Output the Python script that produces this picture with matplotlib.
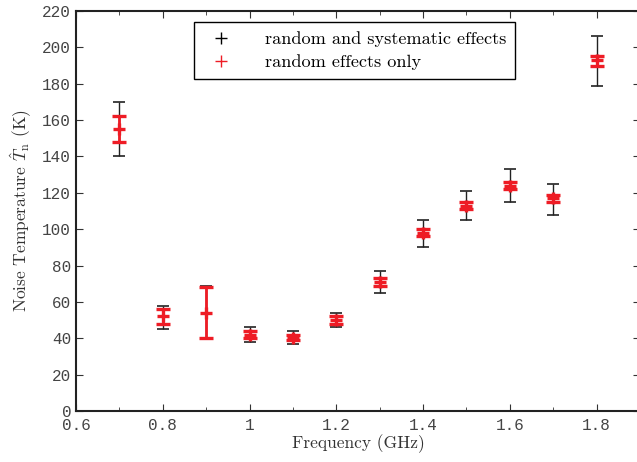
import matplotlib
matplotlib.use("Agg")
import matplotlib.pyplot as plt
from matplotlib.ticker import MultipleLocator
from matplotlib.lines import Line2D

freq = [0.7, 0.8, 0.9, 1.0, 1.1, 1.2, 1.3, 1.4, 1.5, 1.6, 1.7, 1.8]
temp = [155, 52, 54, 42, 40, 50, 71, 98, 113, 124, 117, 193]
sys_hi = [170, 58, 69, 46, 44, 54, 77, 105, 121, 133, 125, 206]
sys_lo = [140, 45, 40, 38, 37, 46, 65, 90, 105, 115, 108, 179]
rnd_hi = [162, 56, 68, 44, 42, 52, 73, 100, 115, 126, 119, 195]
rnd_lo = [148, 48, 40, 40, 39, 48, 69, 96, 111, 122, 115, 190]

xticks = [0.6, 0.8, 1.0, 1.2, 1.4, 1.6, 1.8]
xticklabels = ["0.6", "0.8", "1", "1.2", "1.4", "1.6", "1.8"]

plt.rcParams['mathtext.fontset'] = 'cm'
plt.rcParams['axes.unicode_minus'] = False

fig = plt.figure(figsize=(6.37, 4.62), dpi=100)
ax = fig.add_axes([76/637, 51/462, 564/637, 400/462])

serif = 'cmr10'
mono = 'Liberation Mono'

sys_err = [[t - l for t, l in zip(temp, sys_lo)], [h - t for t, h in zip(temp, sys_hi)]]
rnd_err = [[t - l for t, l in zip(temp, rnd_lo)], [h - t for t, h in zip(temp, rnd_hi)]]

ax.errorbar(freq, temp, yerr=sys_err, fmt='+', color='#222222', ecolor='#222222',
            elinewidth=1.0, capsize=4, capthick=1.2, markersize=7, zorder=2)
ax.errorbar(freq, temp, yerr=rnd_err, fmt='+', color='#ee1c25', ecolor='#ee1c25',
            elinewidth=2.0, capsize=5, capthick=2.4, markersize=9, mew=2.4, zorder=3)

h1 = Line2D([], [], marker='+', ls='none', color='black', markersize=8, mew=1.0)
h2 = Line2D([], [], marker='+', ls='none', color='#ee1c25', markersize=8, mew=1.0)
leg = ax.legend([h1, h2], ["random and systematic effects", "random effects only"],
                loc='upper left', bbox_to_anchor=(118/564, 1 - 11/400), borderaxespad=0,
                fancybox=False, edgecolor='black', framealpha=1,
                prop={'family': serif, 'size': 13.1},
                handletextpad=1.4, borderpad=0.5, labelspacing=0.4, handlelength=2.0)
leg.get_frame().set_linewidth(1.0)

ax.set_xlim(0.6, 1.9)
ax.set_ylim(0, 220)
ax.set_xticks(xticks)
ax.set_xticklabels(xticklabels)
ax.xaxis.set_minor_locator(MultipleLocator(0.1))
ax.yaxis.set_major_locator(MultipleLocator(20))
ax.tick_params(which='both', direction='in', top=True, right=True, labelsize=11.5, colors='#333333')
ax.tick_params(which='major', length=5)
ax.tick_params(which='minor', length=3)
ax.tick_params(axis='x', pad=5)
for lab in ax.get_xticklabels() + ax.get_yticklabels():
    lab.set_family(mono)
    lab.set_color('#444444')

for s in ax.spines.values():
    s.set_linewidth(1.5)
    s.set_color('#222222')

ax.set_xlabel('Frequency (GHz)', family=serif, size=12.5, color='#333333', labelpad=1)
ax.set_ylabel(r'Noise Temperature $\hat{T}_\mathrm{n}$ (K)', family=serif, size=12.5,
              color='#333333', labelpad=6)

fig.savefig('out.png', dpi=100)
